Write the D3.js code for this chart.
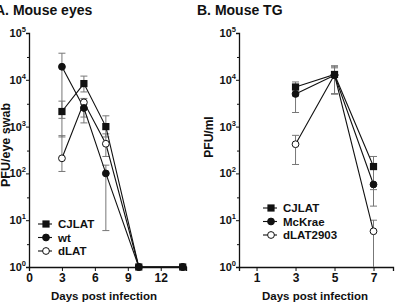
<!DOCTYPE html>
<html>
<head>
<meta charset="utf-8">
<script src="https://cdn.jsdelivr.net/npm/d3@7"></script>
<style>
  body { margin: 0; background: #fff; }
  text { font-family: "Liberation Sans", Arial, sans-serif; font-weight: bold; fill: #111; }
</style>
</head>
<body>
<div id="chart"></div>
<script>
// panel A - mouse eyes
var daysA = [3, 5, 7, 10, 14];
var cjlatA = [2100, 8300, 1000, 1, 1];
var cjlatALo = [600, 5500, 600, 1, 1];
var cjlatAHi = [3500, 12000, 1700, 1, 1];
var wtA = [19000, 2500, 100, 1, 1];
var wtALo = [1500, 1200, 6, 1, 1];
var wtAHi = [37000, 3000, 150, 1, 1];
var dlatA = [210, 3300, 430, 1, 1];
var dlatALo = [110, 1600, 230, 1, 1];
var dlatAHi = [640, 4000, 700, 1, 1];
var ticksA = [0, 3, 6, 9, 12];

// panel B - mouse TG
var daysB = [3, 5, 7];
var cjlatB = [7000, 13000, 140];
var cjlatBLo = [4500, 5000, 45];
var cjlatBHi = [9000, 20000, 230];
var mckraeB = [5000, 12500, 58];
var mckraeBLo = [2000, 5000, 20];
var mckraeBHi = [8000, 19000, 130];
var dlat2903B = [420, 12800, 5.8];
var dlat2903BLo = [155, 5000, 1];
var dlat2903BHi = [650, 18000, 10];
var ticksB = [1, 3, 5, 7];

var powers = [0, 1, 2, 3, 4, 5];

var svg = d3.select("#chart").append("svg")
  .attr("width", 396)
  .attr("height", 304);

function panel(opt) {
  var x = d3.scaleLinear().domain(opt.xdom).range(opt.xr);
  var y = d3.scaleLog().domain([1, 100000]).range([267, 33]);
  var g = svg.append("g");

  // axes
  g.append("g")
    .attr("transform", "translate(0,267)")
    .call(d3.axisBottom(x).tickValues(opt.ticks).tickSize(4).tickFormat(d3.format("d")))
    .call(function(a) {
      a.select(".domain").attr("stroke", "#111").attr("stroke-width", 1.3);
      a.selectAll(".tick line").attr("stroke", "#111");
      a.selectAll(".tick text").attr("font-size", 12).attr("font-family", null).attr("dy", "0.75em").attr("y", 6);
    });
  var ya = g.append("g")
    .attr("transform", "translate(" + opt.xr[0] + ",0)")
    .call(d3.axisLeft(y).tickValues(powers.map(function(p) { return Math.pow(10, p); })).tickSize(3).tickFormat(""))
    .call(function(a) {
      a.select(".domain").attr("stroke", "#111").attr("stroke-width", 1.3);
      a.selectAll(".tick line").attr("stroke", "#111");
    });
  // minor ticks
  var minor = [];
  powers.slice(0, 5).forEach(function(p) { minor.push(Math.pow(10, p) * 3); });
  ya.selectAll(".minor").data(minor).enter().append("line")
    .attr("x1", 0).attr("x2", -2)
    .attr("y1", function(d) { return y(d); }).attr("y2", function(d) { return y(d); })
    .attr("stroke", "#111");

  var lab = g.selectAll(".ylab").data(powers).enter().append("text")
    .attr("x", opt.xr[0] - 3)
    .attr("y", function(p) { return y(Math.pow(10, p)) + 4; })
    .attr("text-anchor", "end")
    .attr("font-size", 11);
  lab.append("tspan").text("10");
  lab.append("tspan").attr("font-size", 7.5).attr("dy", -5).text(function(p) { return p; });

  g.append("text")
    .attr("x", opt.xlabX).attr("y", 300)
    .attr("text-anchor", "middle").attr("font-size", 11.5)
    .text("Days post infection");
  g.append("text")
    .attr("transform", "translate(" + opt.ylabX + "," + opt.ylabY + ") rotate(-90)")
    .attr("text-anchor", "middle").attr("font-size", opt.ylabSize)
    .text(opt.ylab);
  g.append("text")
    .attr("x", opt.titleX).attr("y", 15)
    .attr("font-size", 14)
    .text(opt.title);

  var line = d3.line()
    .x(function(d) { return x(d.day); })
    .y(function(d) { return y(d.v); });

  opt.series.forEach(function(s) {
    var pts = opt.days.map(function(day, i) {
      return { day: day, v: s.v[i], lo: s.lo[i], hi: s.hi[i] };
    });
    // error bars
    var eb = g.append("g").attr("stroke", "#777").attr("stroke-width", 1);
    pts.forEach(function(d) {
      if (d.lo === d.hi) return;
      eb.append("line").attr("x1", x(d.day)).attr("x2", x(d.day)).attr("y1", y(d.lo)).attr("y2", y(d.hi));
      [d.lo, d.hi].forEach(function(v) {
        if (v <= 1) return;
        eb.append("line").attr("x1", x(d.day) - 3.5).attr("x2", x(d.day) + 3.5).attr("y1", y(v)).attr("y2", y(v));
      });
    });
  });

  opt.series.forEach(function(s) {
    var pts = opt.days.map(function(day, i) { return { day: day, v: s.v[i] }; });
    g.append("path").datum(pts)
      .attr("d", line).attr("fill", "none").attr("stroke", "#111").attr("stroke-width", 1.1);
  });

  function marker(sel, shape, cx, cy) {
    if (shape === "square") {
      sel.append("rect").attr("x", cx - 3.6).attr("y", cy - 3.6).attr("width", 7.2).attr("height", 7.2).attr("fill", "#111");
    } else {
      sel.append("circle").attr("cx", cx).attr("cy", cy).attr("r", 3.4)
        .attr("fill", shape === "open" ? "#fff" : "#111").attr("stroke", "#111").attr("stroke-width", 1);
    }
  }

  opt.series.forEach(function(s) {
    opt.days.forEach(function(day, i) {
      marker(g, s.shape, x(day), y(s.v[i]));
    });
  });

  // legend, listed top to bottom
  opt.legend.forEach(function(s, i) {
    var ly = opt.legY + i * 13.5;
    g.append("line").attr("x1", opt.legX).attr("x2", opt.legX + 14).attr("y1", ly).attr("y2", ly)
      .attr("stroke", "#111").attr("stroke-width", 1.1);
    marker(g, s.shape, opt.legX + 8, ly);
    g.append("text").attr("x", opt.legX + 20).attr("y", ly + 4).attr("font-size", 11.5).text(s.name);
  });
}

var seriesA = [
  { name: "dLAT", shape: "open", v: dlatA, lo: dlatALo, hi: dlatAHi },
  { name: "wt", shape: "filled", v: wtA, lo: wtALo, hi: wtAHi },
  { name: "CJLAT", shape: "square", v: cjlatA, lo: cjlatALo, hi: cjlatAHi }
];
panel({
  xdom: [0, 14.3], xr: [29, 186], ticks: ticksA, days: daysA,
  series: seriesA, legend: seriesA.slice().reverse(),
  legX: 38, legY: 224,
  title: "A. Mouse eyes", titleX: -5,
  ylab: "PFU/eye swab", ylabX: 9.5, ylabY: 145, ylabSize: 12.5,
  xlabX: 104
});

var seriesB = [
  { name: "dLAT2903", shape: "open", v: dlat2903B, lo: dlat2903BLo, hi: dlat2903BHi },
  { name: "McKrae", shape: "filled", v: mckraeB, lo: mckraeBLo, hi: mckraeBHi },
  { name: "CJLAT", shape: "square", v: cjlatB, lo: cjlatBLo, hi: cjlatBHi }
];
panel({
  xdom: [0.1, 8], xr: [239, 393], ticks: ticksB, days: daysB,
  series: seriesB, legend: seriesB.slice().reverse(),
  legX: 263, legY: 208,
  title: "B. Mouse TG", titleX: 197,
  ylab: "PFU/ml", ylabX: 213, ylabY: 137, ylabSize: 12,
  xlabX: 315
});
</script>
</body>
</html>
